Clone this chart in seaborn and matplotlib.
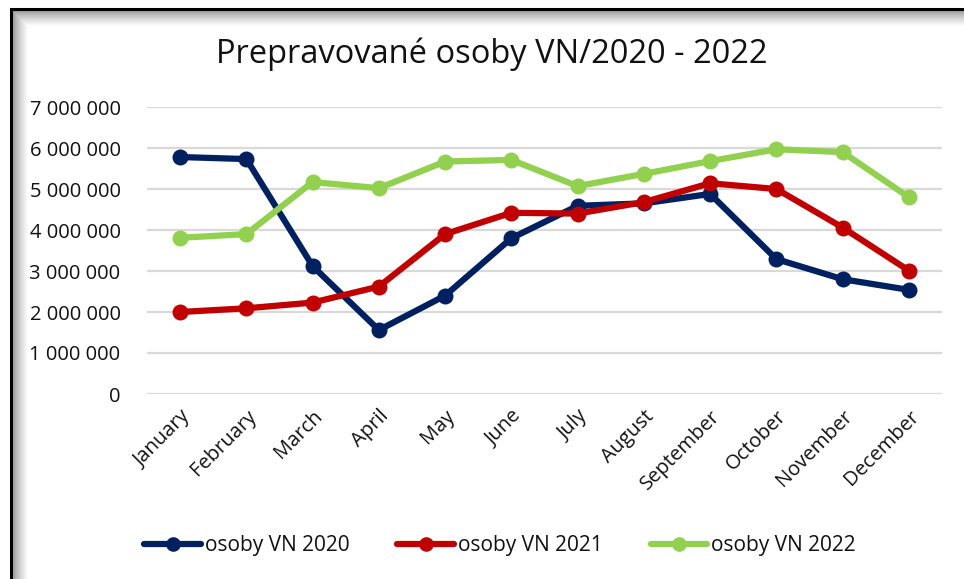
import numpy as np
import pandas as pd
import matplotlib
matplotlib.use("Agg")
import matplotlib.pyplot as plt
from matplotlib.lines import Line2D
from matplotlib.patches import Rectangle
import seaborn as sns

months = ["January", "February", "March", "April", "May", "June", "July",
          "August", "September", "October", "November", "December"]
osoby_2020 = [5780000, 5730000, 3120000, 1560000, 2400000, 3800000,
              4590000, 4650000, 4880000, 3290000, 2800000, 2540000]
osoby_2021 = [2000000, 2090000, 2230000, 2620000, 3900000, 4420000,
              4400000, 4680000, 5140000, 5000000, 4060000, 3010000]
osoby_2022 = [3810000, 3900000, 5170000, 5020000, 5670000, 5710000,
              5070000, 5370000, 5680000, 5970000, 5900000, 4800000]
series_names = ["osoby VN 2020", "osoby VN 2021", "osoby VN 2022"]
colors = ["#002060", "#C00000", "#92D050"]
y_ticks = [0, 1000000, 2000000, 3000000, 4000000, 5000000, 6000000, 7000000]
title = "Prepravované osoby VN/2020 - 2022"

rows = []
for name, vals in zip(series_names, [osoby_2020, osoby_2021, osoby_2022]):
    for m, v in zip(months, vals):
        rows.append({"month": m, "value": v, "series": name})
df = pd.DataFrame(rows)

sns.set_theme(style="white")
FONT = ["Open Sans", "DejaVu Sans"]
plt.rcParams["font.family"] = FONT

W, H = 964, 579
fig = plt.figure(figsize=(W / 100, H / 100), dpi=100)
fig.patch.set_facecolor("white")

# background frame with inner shadow
bg = fig.add_axes([0, 0, 1, 1], zorder=-5)
bg.set_xlim(0, W)
bg.set_ylim(H, 0)
bg.axis("off")
N = 16
for i in range(N):
    lvl = 0.55 + 0.45 * ((i + 0.5) / N) ** 0.75
    c = (lvl, lvl, lvl)
    # left strip (drawn from far to near so nearer darker overlaps)
for i in reversed(range(N)):
    lvl = 0.55 + 0.45 * ((i + 0.5) / N) ** 0.75
    c = (lvl, lvl, lvl)
    bg.add_patch(Rectangle((12, 10), i + 1, H, facecolor=c, edgecolor="none", lw=0))
    bg.add_patch(Rectangle((12, 10), W, i + 1, facecolor=c, edgecolor="none", lw=0))
bg.plot([11, 11, W], [H, 9, 9], color="black", lw=2.2, solid_capstyle="butt",
        solid_joinstyle="miter")

ax = fig.add_axes([147 / W, 1 - 394 / H, 795 / W, 287 / H])
ax.set_facecolor("none")
sns.lineplot(data=df, x="month", y="value", hue="series", palette=colors,
             hue_order=series_names, sort=False, ax=ax, lw=4.5,
             marker="o", markersize=11.5, markeredgewidth=0, legend=False)

ax.set_xlim(-0.5, 11.5)
ax.set_ylim(0, 7000000)
ax.set_yticks(y_ticks)
ax.set_yticklabels([f"{v:,}".replace(",", " ") for v in y_ticks], fontsize=14.5,
                   color="#111111")
ax.set_xticks(range(len(months)))
ax.set_xticklabels(months, rotation=45, ha="right", rotation_mode="anchor",
                   fontsize=14.5, color="#111111")
ax.tick_params(axis="y", length=0, pad=19)
ax.tick_params(axis="x", length=0, pad=9)
ax.grid(axis="y", color="#D9D9D9", lw=1.6)
ax.set_axisbelow(True)
for s in ax.spines.values():
    s.set_visible(False)
ax.set_xlabel("")
ax.set_ylabel("")

fig.text(492 / W, 1 - 63 / H, title, ha="center", va="baseline", fontsize=23.5,
         color="#111111")

handles = [Line2D([0], [0], color=c, lw=4.5, marker="o", markersize=10.5,
                  markeredgewidth=0) for c in colors]
fig.legend(handles, series_names, loc="center", bbox_to_anchor=(500 / W, 1 - 546 / H),
           ncol=3, frameon=False, fontsize=15, handlelength=2.7, handletextpad=0.2,
           columnspacing=2.3, labelcolor="#111111")

fig.savefig("out.png", dpi=100, facecolor="white")
